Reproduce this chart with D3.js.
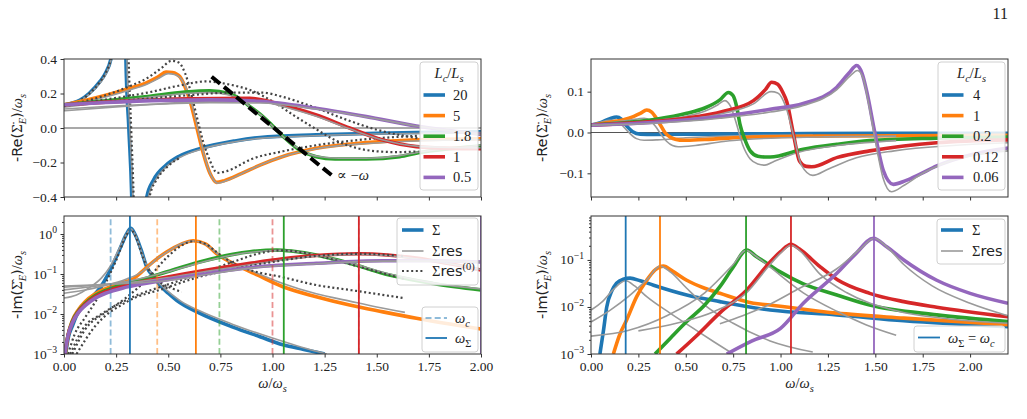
<!DOCTYPE html>
<html>
<head>
<meta charset="utf-8">
<script src="https://cdn.jsdelivr.net/npm/d3@7"></script>
<style>
  body { margin: 0; background: #fff; }
  svg text { font-family: "Liberation Serif", "DejaVu Serif", serif; fill: #222; }
  .sans { font-family: "DejaVu Sans", sans-serif; }
</style>
</head>
<body>
<svg id="fig" width="1027" height="419"></svg>
<script>
// ---- data: [omega/omega_s, value] ----
const colors = ["#1f77b4", "#ff7f0e", "#2ca02c", "#d62728", "#9467bd"];
const ratiosA = ["20", "5", "1.8", "1", "0.5"];
const ratiosB = ["4", "1", "0.2", "0.12", "0.06"];

// (a) top: -Re
const reA_sig_20 = [[0,0.133],[0.04,0.145],[0.077,0.162],[0.12,0.2],[0.173,0.27],[0.2,0.32],[0.225,0.4],[0.245,0.55],[0.27,1.0],[0.285,1.5],[0.297,0.4],[0.311,0],[0.325,-0.4],[0.335,-1.0],[0.36,-1.2],[0.38,-0.6],[0.397,-0.4],[0.43,-0.3],[0.49,-0.215],[0.55,-0.165],[0.655,-0.118],[0.82,-0.075],[0.94,-0.055],[1.21,-0.04],[1.5,-0.03],[1.75,-0.025],[2.0,-0.022]];
const reA_res_20 = [[0,0.125],[0.04,0.14],[0.077,0.158],[0.12,0.195],[0.173,0.262],[0.2,0.31],[0.225,0.39],[0.245,0.53],[0.27,0.95],[0.29,1.5],[0.302,0.4],[0.316,0],[0.33,-0.4],[0.34,-1.0],[0.37,-1.2],[0.39,-0.6],[0.405,-0.4],[0.44,-0.3],[0.5,-0.215],[0.56,-0.168],[0.66,-0.122],[0.82,-0.08],[0.94,-0.06],[1.2,-0.045],[1.5,-0.035],[1.75,-0.03],[2.0,-0.027]];
const reA_z_20 = [[0,0.13],[0.04,0.143],[0.077,0.16],[0.12,0.198],[0.173,0.268],[0.2,0.32],[0.225,0.4],[0.245,0.55],[0.27,1.0],[0.29,1.6],[0.31,0.4],[0.322,0],[0.334,-0.4],[0.345,-1.0],[0.37,-1.2],[0.39,-0.6],[0.41,-0.4],[0.45,-0.29],[0.5,-0.22],[0.56,-0.17]];
const reA_sig_5 = [[0,0.135],[0.1,0.16],[0.2,0.19],[0.3,0.225],[0.4,0.265],[0.45,0.295],[0.49,0.325],[0.52,0.322],[0.556,0.297],[0.58,0.24],[0.604,0.16],[0.636,0.008],[0.668,-0.147],[0.7,-0.263],[0.732,-0.315],[0.77,-0.305],[0.85,-0.265],[0.94,-0.215],[1.05,-0.165],[1.21,-0.118],[1.45,-0.085],[1.69,-0.068],[2.0,-0.062]];
const reA_res_5 = [[0,0.125],[0.1,0.15],[0.2,0.18],[0.3,0.215],[0.4,0.255],[0.45,0.285],[0.5,0.315],[0.53,0.31],[0.565,0.28],[0.59,0.22],[0.615,0.13],[0.645,-0.02],[0.675,-0.17],[0.705,-0.275],[0.738,-0.32],[0.78,-0.305],[0.86,-0.26],[0.95,-0.21],[1.05,-0.165],[1.21,-0.12],[1.45,-0.09],[1.69,-0.075],[2.0,-0.068]];
const reA_z_5 = [[0,0.13],[0.1,0.155],[0.2,0.19],[0.3,0.235],[0.4,0.29],[0.47,0.35],[0.516,0.39],[0.55,0.38],[0.58,0.32],[0.61,0.2],[0.64,0.05],[0.67,-0.09],[0.7,-0.19],[0.735,-0.26],[0.78,-0.25],[0.9,-0.18],[1.05,-0.135],[1.21,-0.1],[1.45,-0.065],[1.7,-0.045]];
const reA_sig_18 = [[0,0.135],[0.2,0.158],[0.4,0.183],[0.58,0.208],[0.7,0.215],[0.79,0.2],[0.85,0.165],[0.892,0.124],[0.94,0.08],[0.972,0.046],[1.052,-0.05],[1.13,-0.128],[1.21,-0.166],[1.3,-0.18],[1.45,-0.18],[1.61,-0.166],[1.7,-0.143],[1.85,-0.12],[2.0,-0.104]];
const reA_res_18 = [[0,0.12],[0.2,0.15],[0.4,0.177],[0.58,0.2],[0.7,0.205],[0.8,0.19],[0.86,0.155],[0.9,0.115],[0.95,0.07],[0.98,0.035],[1.06,-0.06],[1.14,-0.13],[1.22,-0.165],[1.32,-0.175],[1.45,-0.175],[1.61,-0.16],[1.7,-0.14],[1.85,-0.118],[2.0,-0.1]];
const reA_z_18 = [[0,0.13],[0.2,0.165],[0.4,0.205],[0.55,0.245],[0.68,0.27],[0.78,0.255],[0.892,0.22],[1.0,0.155],[1.1,0.075],[1.2,0.0],[1.3,-0.07],[1.4,-0.115],[1.5,-0.135],[1.6,-0.14],[1.7,-0.135]];
const reA_sig_1 = [[0,0.135],[0.2,0.15],[0.4,0.162],[0.6,0.17],[0.892,0.172],[0.97,0.158],[1.05,0.133],[1.21,0.075],[1.37,0.0],[1.53,-0.07],[1.69,-0.108],[1.85,-0.118],[2.0,-0.12]];
const reA_res_1 = [[0,0.1],[0.2,0.118],[0.4,0.135],[0.6,0.15],[0.892,0.16],[0.97,0.15],[1.05,0.125],[1.21,0.068],[1.37,-0.005],[1.53,-0.07],[1.69,-0.105],[1.85,-0.113],[2.0,-0.115]];
const reA_z_1 = [[0,0.13],[0.2,0.15],[0.4,0.17],[0.6,0.19],[0.8,0.205],[0.95,0.205],[1.05,0.18],[1.2,0.12],[1.35,0.05],[1.5,-0.01],[1.7,-0.06]];
const reA_sig_05 = [[0,0.135],[0.2,0.148],[0.49,0.16],[0.7,0.163],[0.94,0.155],[1.21,0.114],[1.45,0.066],[1.69,0.012],[1.85,-0.015],[2.0,-0.038]];
const reA_res_05 = [[0,0.11],[0.2,0.125],[0.49,0.14],[0.7,0.147],[0.94,0.145],[1.21,0.11],[1.45,0.064],[1.69,0.012],[1.85,-0.015],[2.0,-0.038]];
const reA_slope = [[0.708,0.297],[1.3,-0.29]];

// (a) bottom: -Im (log)
const imA_sig_20 = [[0.008,0.001],[0.02,0.0025],[0.04,0.005],[0.061,0.0094],[0.093,0.0154],[0.13,0.025],[0.173,0.045],[0.21,0.095],[0.236,0.18],[0.27,0.45],[0.3,1.0],[0.32,1.38],[0.34,1.0],[0.37,0.4],[0.397,0.15],[0.43,0.085],[0.46,0.053],[0.5,0.033],[0.54,0.022],[0.65,0.0105],[0.81,0.0047],[0.94,0.0027],[1.05,0.0017],[1.15,0.0013],[1.25,0.001]];
const imA_res_20 = [[0,0.025],[0.06,0.03],[0.12,0.045],[0.18,0.08],[0.22,0.15],[0.26,0.38],[0.3,1.0],[0.32,1.35],[0.34,1.0],[0.37,0.38],[0.4,0.15],[0.44,0.075],[0.48,0.045],[0.52,0.03],[0.56,0.021],[0.65,0.012],[0.81,0.0055],[1.0,0.0025],[1.2,0.0012],[1.26,0.001]];
const imA_z_20 = [[0.02,0.001],[0.05,0.003],[0.1,0.008],[0.15,0.02],[0.2,0.06],[0.25,0.22],[0.3,0.95],[0.32,1.3],[0.34,0.95],[0.38,0.25],[0.42,0.1],[0.47,0.058],[0.52,0.043],[0.564,0.036]];
const imA_sig_5 = [[0.006,0.001],[0.02,0.003],[0.04,0.0068],[0.07,0.013],[0.1,0.02],[0.15,0.032],[0.2,0.043],[0.25,0.054],[0.3,0.065],[0.333,0.076],[0.37,0.11],[0.41,0.17],[0.45,0.25],[0.49,0.35],[0.56,0.55],[0.62,0.68],[0.68,0.56],[0.73,0.33],[0.79,0.21],[0.844,0.15],[0.924,0.096],[1.05,0.048],[1.21,0.027],[1.37,0.0167],[1.53,0.0113],[1.69,0.0078],[1.85,0.0056],[2.0,0.0042]];
const imA_res_5 = [[0,0.033],[0.1,0.04],[0.2,0.052],[0.3,0.075],[0.37,0.11],[0.45,0.25],[0.5,0.37],[0.56,0.56],[0.62,0.67],[0.68,0.55],[0.73,0.34],[0.8,0.2],[0.9,0.12],[1.05,0.058],[1.21,0.032],[1.37,0.021],[1.5,0.015],[1.635,0.011]];
const imA_z_5 = [[0.04,0.001],[0.1,0.004],[0.2,0.011],[0.3,0.026],[0.4,0.075],[0.5,0.28],[0.56,0.5],[0.62,0.66],[0.68,0.56],[0.73,0.36],[0.8,0.2],[0.892,0.126],[1.05,0.083],[1.21,0.053],[1.37,0.04],[1.63,0.025]];
const imA_sig_18 = [[0.005,0.001],[0.02,0.003],[0.04,0.0065],[0.07,0.012],[0.1,0.018],[0.15,0.029],[0.2,0.039],[0.3,0.057],[0.4,0.08],[0.49,0.112],[0.65,0.2],[0.81,0.31],[0.892,0.36],[1.02,0.4],[1.1,0.37],[1.21,0.3],[1.37,0.185],[1.56,0.094],[1.77,0.058],[2.0,0.04]];
const imA_res_18 = [[0,0.04],[0.1,0.046],[0.2,0.054],[0.3,0.065],[0.49,0.11],[0.65,0.19],[0.81,0.3],[0.95,0.37],[1.04,0.39],[1.12,0.36],[1.21,0.3],[1.37,0.19],[1.56,0.1],[1.77,0.06],[2.0,0.042]];
const imA_z_18 = [[0.03,0.001],[0.1,0.005],[0.173,0.0095],[0.333,0.027],[0.49,0.053],[0.65,0.1],[0.81,0.2],[0.95,0.34],[1.04,0.39],[1.12,0.36],[1.25,0.26],[1.4,0.16],[1.63,0.075]];
const imA_sig_1 = [[0.004,0.001],[0.02,0.003],[0.04,0.0062],[0.07,0.0115],[0.1,0.017],[0.15,0.027],[0.2,0.036],[0.3,0.052],[0.49,0.083],[0.7,0.13],[0.892,0.185],[1.05,0.24],[1.21,0.29],[1.414,0.32],[1.55,0.3],[1.69,0.25],[1.85,0.18],[2.0,0.126]];
const imA_res_1 = [[0,0.047],[0.1,0.05],[0.2,0.055],[0.3,0.06],[0.49,0.08],[0.7,0.12],[0.892,0.17],[1.05,0.225],[1.21,0.28],[1.414,0.31],[1.55,0.29],[1.69,0.24],[1.85,0.18],[2.0,0.13]];
const imA_z_1 = [[0.06,0.001],[0.15,0.005],[0.3,0.02],[0.49,0.045],[0.65,0.085],[0.81,0.13],[1.0,0.2],[1.2,0.28],[1.414,0.32],[1.63,0.28]];
const imA_sig_05 = [[0.004,0.001],[0.02,0.003],[0.04,0.006],[0.07,0.011],[0.1,0.016],[0.15,0.025],[0.2,0.033],[0.3,0.047],[0.49,0.071],[0.7,0.105],[0.892,0.145],[1.21,0.185],[1.53,0.215],[1.75,0.215],[2.0,0.2]];
const imA_res_05 = [[0,0.05],[0.1,0.052],[0.2,0.055],[0.3,0.058],[0.49,0.068],[0.7,0.1],[0.892,0.14],[1.21,0.18],[1.53,0.21],[1.75,0.21],[2.0,0.2]];
const wcA = [0.2236, 0.4472, 0.7454, 1.0, 1.4142];
const wsA = [0.3162, 0.6325, 1.0541, 1.4142, 2.0];

// (b) top: -Re
const reB_sig_4 = [[0,0.018],[0.05,0.024],[0.1,0.034],[0.135,0.038],[0.16,0.033],[0.19,0.015],[0.22,0.002],[0.26,-0.004],[0.33,-0.005],[0.6,-0.004],[1.0,-0.003],[1.5,-0.002],[2.2,-0.002]];
const reB_res_4 = [[0,0.018],[0.05,0.025],[0.1,0.03],[0.13,0.03],[0.16,0.02],[0.2,0.0],[0.24,-0.015],[0.28,-0.019],[0.35,-0.018],[0.5,-0.013],[0.8,-0.008],[1.17,-0.006]];
const reB_sig_1 = [[0,0.018],[0.1,0.025],[0.2,0.035],[0.26,0.047],[0.294,0.055],[0.32,0.05],[0.345,0.035],[0.364,0.02],[0.39,0.0],[0.42,-0.012],[0.45,-0.017],[0.487,-0.019],[0.6,-0.017],[0.857,-0.011],[1.2,-0.009],[1.6,-0.008],[2.2,-0.007]];
const reB_res_1 = [[0,0.018],[0.1,0.024],[0.2,0.03],[0.28,0.035],[0.31,0.03],[0.34,0.015],[0.37,-0.005],[0.4,-0.022],[0.43,-0.032],[0.46,-0.035],[0.55,-0.032],[0.7,-0.022],[0.857,-0.016],[1.2,-0.011],[1.61,-0.009]];
const reB_sig_02 = [[0,0.018],[0.2,0.025],[0.35,0.033],[0.505,0.047],[0.6,0.06],[0.68,0.08],[0.725,0.098],[0.75,0.09],[0.77,0.06],[0.786,0.02],[0.81,-0.015],[0.84,-0.045],[0.88,-0.058],[0.918,-0.06],[0.945,-0.06],[1.12,-0.041],[1.297,-0.029],[1.47,-0.02],[1.824,-0.014],[2.2,-0.011]];
const reB_res_02 = [[0,0.018],[0.2,0.024],[0.35,0.03],[0.5,0.04],[0.6,0.052],[0.67,0.068],[0.705,0.078],[0.735,0.065],[0.765,0.025],[0.8,-0.03],[0.84,-0.065],[0.88,-0.077],[0.918,-0.08],[0.96,-0.072],[1.1,-0.048],[1.3,-0.032],[1.61,-0.02]];
const reB_sig_012 = [[0,0.018],[0.3,0.026],[0.5,0.035],[0.7,0.052],[0.857,0.078],[0.92,0.105],[0.953,0.123],[0.985,0.118],[1.01,0.1],[1.033,0.075],[1.068,-0.004],[1.1,-0.07],[1.135,-0.083],[1.165,-0.084],[1.3,-0.061],[1.47,-0.045],[1.65,-0.033],[1.824,-0.025],[2.2,-0.018]];
const reB_res_012 = [[0,0.018],[0.3,0.024],[0.5,0.032],[0.7,0.047],[0.857,0.07],[0.95,0.1],[0.985,0.097],[1.03,0.06],[1.07,-0.01],[1.11,-0.08],[1.17,-0.105],[1.25,-0.09],[1.4,-0.062],[1.6,-0.045],[2.2,-0.025]];
const reB_sig_006 = [[0,0.018],[0.3,0.024],[0.68,0.039],[0.945,0.057],[1.12,0.071],[1.297,0.111],[1.36,0.145],[1.402,0.164],[1.43,0.145],[1.455,0.1],[1.499,-0.004],[1.543,-0.094],[1.595,-0.127],[1.66,-0.118],[1.736,-0.102],[1.824,-0.082],[2.0,-0.055],[2.2,-0.038]];
const reB_res_006 = [[0,0.018],[0.3,0.022],[0.68,0.035],[0.945,0.05],[1.12,0.066],[1.297,0.105],[1.37,0.14],[1.405,0.152],[1.435,0.135],[1.465,0.07],[1.5,-0.02],[1.54,-0.11],[1.585,-0.145],[1.65,-0.13],[1.75,-0.1],[1.85,-0.078],[2.2,-0.045]];

// (b) bottom: -Im (log)
const imB_sig_4 = [[0.047,0.001],[0.065,0.003],[0.083,0.01],[0.11,0.022],[0.135,0.032],[0.17,0.039],[0.206,0.041],[0.26,0.036],[0.33,0.029],[0.505,0.018],[0.68,0.013],[0.945,0.0086],[1.297,0.0068],[1.65,0.0051],[2.2,0.0038]];
const imB_res_4 = [[0,0.0086],[0.06,0.013],[0.12,0.024],[0.183,0.036],[0.23,0.028],[0.294,0.0166],[0.417,0.0074],[0.54,0.0035],[0.65,0.0018],[0.75,0.001]];
const imB_sig_1 = [[0.118,0.001],[0.15,0.0025],[0.188,0.0053],[0.241,0.0166],[0.294,0.037],[0.34,0.062],[0.382,0.074],[0.43,0.058],[0.505,0.037],[0.6,0.025],[0.68,0.0195],[0.857,0.012],[0.945,0.011],[1.297,0.0074],[1.65,0.0058],[2.2,0.0042]];
const imB_res_1 = [[0,0.0048],[0.1,0.0085],[0.2,0.017],[0.3,0.04],[0.364,0.074],[0.42,0.055],[0.505,0.025],[0.6,0.011],[0.75,0.0045],[0.945,0.0019],[1.17,0.0011]];
const imB_sig_02 = [[0.338,0.001],[0.42,0.0022],[0.505,0.0049],[0.6,0.011],[0.68,0.027],[0.75,0.07],[0.822,0.163],[0.87,0.12],[0.927,0.085],[1.0,0.055],[1.12,0.031],[1.297,0.018],[1.47,0.011],[1.824,0.0068],[2.2,0.0049]];
const imB_res_02 = [[0,0.0024],[0.2,0.0032],[0.4,0.0065],[0.6,0.02],[0.75,0.08],[0.818,0.16],[0.87,0.12],[0.945,0.07],[1.12,0.02],[1.3,0.008],[1.45,0.0042],[1.61,0.0025]];
const imB_sig_012 = [[0.452,0.001],[0.55,0.0023],[0.68,0.0075],[0.822,0.023],[0.945,0.09],[1.0,0.15],[1.055,0.216],[1.1,0.17],[1.208,0.072],[1.3,0.038],[1.47,0.0195],[1.65,0.013],[1.824,0.0099],[2.2,0.0062]];
const imB_res_012 = [[0.25,0.0031],[0.45,0.0045],[0.65,0.008],[0.82,0.02],[0.945,0.08],[1.0,0.14],[1.055,0.205],[1.1,0.16],[1.208,0.05],[1.35,0.02],[1.6,0.0085],[1.9,0.0055],[2.2,0.0045]];
const imB_sig_006 = [[0.716,0.001],[0.85,0.0019],[1.0,0.0035],[1.12,0.012],[1.297,0.052],[1.4,0.14],[1.49,0.288],[1.56,0.19],[1.65,0.1],[1.824,0.037],[2.0,0.0195],[2.2,0.012]];
const imB_res_006 = [[0.68,0.0044],[0.8,0.0065],[0.945,0.0115],[1.1,0.025],[1.297,0.065],[1.42,0.17],[1.493,0.29],[1.56,0.19],[1.65,0.08],[1.8,0.028],[2.0,0.012],[2.2,0.0065]];
const wsB = [0.183, 0.364, 0.818, 1.055, 1.493];

const xTicks = [0, 0.25, 0.5, 0.75, 1, 1.25, 1.5, 1.75, 2];

// ---- layout ----
const svg = d3.select("#fig");
const xA = d3.scaleLinear().domain([0, 2]).range([64, 481]);
const xB = d3.scaleLinear().domain([0, 2.2]).range([591, 1008]);
const yAre = d3.scaleLinear().domain([-0.4, 0.4]).range([197, 59]);
const yAim = d3.scaleLog().domain([1e-3, 2.82]).range([354, 216]);
const yBre = d3.scaleLinear().domain([-0.158, 0.18]).range([197, 59]);
const yBim = d3.scaleLog().domain([1e-3, 0.86]).range([354, 216]);

const FS = 13.5;
const SERIF = '"Liberation Serif", "DejaVu Serif", serif';

// small helper for mixed math / text labels
function rich(txt, parts, size) {
    let cur = 0;
    parts.forEach(p => {
        const off = p.sub ? size * 0.3 : p.sup ? -size * 0.42 : 0;
        const ts = txt.append("tspan").text(p.t).attr("dy", off - cur);
        cur = off;
        if (p.it) ts.attr("font-style", "italic");
        if (p.sans) ts.attr("class", "sans");
        if (p.sub || p.sup) ts.attr("font-size", size * 0.72);
    });
    return txt;
}

let clipN = 0;
function makePanel(x, y) {
    const id = "clip" + (clipN++);
    svg.append("clipPath").attr("id", id).append("rect")
        .attr("x", x.range()[0]).attr("y", y.range()[1])
        .attr("width", x.range()[1] - x.range()[0])
        .attr("height", y.range()[0] - y.range()[1]);
    return svg.append("g").attr("clip-path", `url(#${id})`);
}

function line(x, y) {
    return d3.line().x(p => x(p[0])).y(p => y(p[1])).curve(d3.curveMonotoneX);
}

function drawSeries(g, x, y, sig, res, zer) {
    const ln = line(x, y);
    sig.forEach((s, i) => {
        g.append("path").datum(s).attr("d", ln).attr("fill", "none")
            .attr("stroke", colors[i]).attr("stroke-width", 3.6).attr("stroke-linejoin", "round");
        if (res[i]) g.append("path").datum(res[i]).attr("d", ln).attr("fill", "none")
            .attr("stroke", "#9a9a9a").attr("stroke-width", 1.6);
        if (zer && zer[i]) g.append("path").datum(zer[i]).attr("d", ln).attr("fill", "none")
            .attr("stroke", "#444").attr("stroke-width", 2.2).attr("stroke-dasharray", "2,2.6");
    });
}

function zeroLine(g, x, y) {
    g.append("line").attr("x1", x.range()[0]).attr("x2", x.range()[1])
        .attr("y1", y(0)).attr("y2", y(0)).attr("stroke", "#555").attr("stroke-width", 1.2);
}

function frame(x, y) {
    svg.append("rect").attr("x", x.range()[0]).attr("y", y.range()[1])
        .attr("width", x.range()[1] - x.range()[0]).attr("height", y.range()[0] - y.range()[1])
        .attr("fill", "none").attr("stroke", "#333").attr("stroke-width", 1);
}

function styleAxis(g) {
    g.attr("font-family", null).attr("font-size", null);
    g.select(".domain").remove();
    g.selectAll(".tick line").attr("stroke", "#333");
    g.selectAll(".tick text").attr("fill", "#222")
        .style("font-family", SERIF).style("font-size", FS + "px");
}

function xAxis(x, y, labels, ticks) {
    const g = svg.append("g").attr("transform", `translate(0,${y.range()[0]})`)
        .call(d3.axisBottom(x).tickValues(ticks).tickSize(3.5).tickPadding(4)
            .tickFormat(labels ? d3.format(".2f") : ""));
    styleAxis(g);
}

function yAxisLin(x, y, ticks) {
    const g = svg.append("g").attr("transform", `translate(${x.range()[0]},0)`)
        .call(d3.axisLeft(y).tickValues(ticks).tickSize(3.5).tickPadding(3.5).tickFormat(d3.format(".1f")));
    styleAxis(g);
}

function yAxisLog(x, y, exps) {
    const x0 = x.range()[0];
    const [lo, hi] = y.domain();
    const minor = [];
    for (let e = Math.floor(Math.log10(lo)); e <= Math.ceil(Math.log10(hi)); e++)
        for (let k = 2; k <= 9; k++) { const v = k * Math.pow(10, e); if (v > lo && v < hi) minor.push(v); }
    const gm = svg.append("g").attr("transform", `translate(${x0},0)`)
        .call(d3.axisLeft(y).tickValues(minor).tickSize(2).tickFormat(""));
    styleAxis(gm);
    const gM = svg.append("g").attr("transform", `translate(${x0},0)`)
        .call(d3.axisLeft(y).tickValues(exps.map(e => Math.pow(10, e))).tickSize(3.5).tickFormat(""));
    styleAxis(gM);
    exps.forEach(e => {
        const t = svg.append("text").attr("x", x0 - 7).attr("y", y(Math.pow(10, e)) + 4.5)
            .attr("text-anchor", "end").attr("font-size", FS);
        rich(t, [{ t: "10" }, { t: e < 0 ? "\u2212" + (-e) : String(e), sup: true }], FS);
    });
}

function vlines(g, x, y, vals, dashed) {
    g.selectAll(null).data(vals).enter().append("line")
        .attr("x1", d => x(d)).attr("x2", d => x(d))
        .attr("y1", y.range()[0]).attr("y2", y.range()[1])
        .attr("stroke", (d, i) => colors[i])
        .attr("stroke-width", 1.8)
        .attr("stroke-opacity", dashed ? 0.5 : 1)
        .attr("stroke-dasharray", dashed ? "6,3.2" : null);
}

function yLabel(xpos, y, parts) {
    const c = (y.range()[0] + y.range()[1]) / 2;
    const t = svg.append("text").attr("transform", `translate(${xpos},${c}) rotate(-90)`)
        .attr("text-anchor", "middle").attr("font-size", 14.5);
    rich(t, parts, 14.5);
}

function xLabel(x, ypos) {
    const t = svg.append("text").attr("x", (x.range()[0] + x.range()[1]) / 2).attr("y", ypos)
        .attr("text-anchor", "middle").attr("font-size", 14.5);
    rich(t, [{ t: "ω", it: true }, { t: "/" }, { t: "ω", it: true }, { t: "s", it: true, sub: true }], 14.5);
}

function legendBox(x0, y0, w, h) {
    svg.append("rect").attr("x", x0).attr("y", y0).attr("width", w).attr("height", h)
        .attr("rx", 3).attr("fill", "#fff").attr("fill-opacity", 0.85)
        .attr("stroke", "#d0d0d0").attr("stroke-width", 1);
}

function legendEntry(hx0, hx1, yy, tx, style, parts) {
    const l = svg.append("line").attr("x1", hx0).attr("x2", hx1).attr("y1", yy).attr("y2", yy)
        .attr("stroke", style.color).attr("stroke-width", style.w);
    if (style.dash) l.attr("stroke-dasharray", style.dash);
    if (style.op) l.attr("stroke-opacity", style.op);
    const t = svg.append("text").attr("x", tx).attr("y", yy + 5).attr("font-size", 14.5);
    rich(t, parts, 14.5);
}

// ---- (a) top ----
const gAre = makePanel(xA, yAre);
zeroLine(gAre, xA, yAre);
drawSeries(gAre, xA, yAre,
    [reA_sig_20, reA_sig_5, reA_sig_18, reA_sig_1, reA_sig_05],
    [reA_res_20, reA_res_5, reA_res_18, reA_res_1, reA_res_05],
    [reA_z_20, reA_z_5, reA_z_18, reA_z_1]);
gAre.append("path").datum(reA_slope).attr("d", d3.line().x(p => xA(p[0])).y(p => yAre(p[1])))
    .attr("stroke", "#000").attr("stroke-width", 4).attr("stroke-dasharray", "11,5").attr("fill", "none");
frame(xA, yAre);
xAxis(xA, yAre, false, xTicks);
yAxisLin(xA, yAre, [-0.4, -0.2, 0, 0.2, 0.4]);
rich(svg.append("text").attr("x", 337).attr("y", 180).attr("font-size", 14.5),
    [{ t: "∝ −" }, { t: "ω", it: true }], 14.5);
yLabel(22, yAre, [{ t: "-Re(", sans: true }, { t: "Σ\u0308" }, { t: "E", it: true, sub: true }, { t: ")", sans: true }, { t: "/" }, { t: "ω", it: true }, { t: "s", it: true, sub: true }]);

legendBox(420, 62, 58, 128);
rich(svg.append("text").attr("x", 449).attr("y", 78).attr("text-anchor", "middle").attr("font-size", 14.5),
    [{ t: "L", it: true }, { t: "c", it: true, sub: true }, { t: "/" }, { t: "L", it: true }, { t: "s", it: true, sub: true }], 14.5);
ratiosA.forEach((r, i) => legendEntry(423.5, 445, 95 + i * 20.6, 453, { color: colors[i], w: 3.6 }, [{ t: r }]));

// ---- (a) bottom ----
const gAim = makePanel(xA, yAim);
drawSeries(gAim, xA, yAim,
    [imA_sig_20, imA_sig_5, imA_sig_18, imA_sig_1, imA_sig_05],
    [imA_res_20, imA_res_5, imA_res_18, imA_res_1, imA_res_05],
    [imA_z_20, imA_z_5, imA_z_18, imA_z_1]);
vlines(gAim, xA, yAim, wcA, true);
vlines(gAim, xA, yAim, wsA, false);
frame(xA, yAim);
xAxis(xA, yAim, true, xTicks);
yAxisLog(xA, yAim, [-3, -2, -1, 0]);
yLabel(22, yAim, [{ t: "-Im(", sans: true }, { t: "Σ\u0302" }, { t: "E", it: true, sub: true }, { t: ")", sans: true }, { t: "/" }, { t: "ω", it: true }, { t: "s", it: true, sub: true }]);
xLabel(xA, 388);

legendBox(397, 218, 81, 67);
legendEntry(402, 423.5, 230, 432, { color: colors[0], w: 3.6 }, [{ t: "Σ" }]);
legendEntry(402, 423.5, 251, 432, { color: "#9a9a9a", w: 1.6 }, [{ t: "Σ" }, { t: "res", sans: true }]);
legendEntry(402, 423.5, 271, 432, { color: "#444", w: 2.2, dash: "2,2.6" }, [{ t: "Σ" }, { t: "res", sans: true }, { t: "(0)", sup: true }]);
legendBox(422, 307, 56, 45);
legendEntry(425.5, 447, 318, 455, { color: colors[0], w: 1.8, dash: "6,3.2", op: 0.5 }, [{ t: "ω", it: true }, { t: "c", it: true, sub: true }]);
legendEntry(425.5, 447, 338, 455, { color: colors[0], w: 1.8 }, [{ t: "ω", it: true }, { t: "Σ", sub: true }]);

// ---- (b) top ----
const gBre = makePanel(xB, yBre);
zeroLine(gBre, xB, yBre);
drawSeries(gBre, xB, yBre,
    [reB_sig_4, reB_sig_1, reB_sig_02, reB_sig_012, reB_sig_006],
    [reB_res_4, reB_res_1, reB_res_02, reB_res_012, reB_res_006], null);
frame(xB, yBre);
xAxis(xB, yBre, false, xTicks);
yAxisLin(xB, yBre, [-0.1, 0, 0.1]);
yLabel(547, yBre, [{ t: "-Re(", sans: true }, { t: "Σ\u0308" }, { t: "E", it: true, sub: true }, { t: ")", sans: true }, { t: "/" }, { t: "ω", it: true }, { t: "s", it: true, sub: true }]);

legendBox(938, 62, 67, 128);
rich(svg.append("text").attr("x", 971.5).attr("y", 78).attr("text-anchor", "middle").attr("font-size", 14.5),
    [{ t: "L", it: true }, { t: "c", it: true, sub: true }, { t: "/" }, { t: "L", it: true }, { t: "s", it: true, sub: true }], 14.5);
ratiosB.forEach((r, i) => legendEntry(942, 963.5, 95 + i * 20.6, 973, { color: colors[i], w: 3.6 }, [{ t: r }]));

// ---- (b) bottom ----
const gBim = makePanel(xB, yBim);
drawSeries(gBim, xB, yBim,
    [imB_sig_4, imB_sig_1, imB_sig_02, imB_sig_012, imB_sig_006],
    [imB_res_4, imB_res_1, imB_res_02, imB_res_012, imB_res_006], null);
vlines(gBim, xB, yBim, wsB, false);
frame(xB, yBim);
xAxis(xB, yBim, true, xTicks);
yAxisLog(xB, yBim, [-3, -2, -1]);
yLabel(547, yBim, [{ t: "-Im(", sans: true }, { t: "Σ\u0302" }, { t: "E", it: true, sub: true }, { t: ")", sans: true }, { t: "/" }, { t: "ω", it: true }, { t: "s", it: true, sub: true }]);
xLabel(xB, 388);

legendBox(937, 219, 68, 45);
legendEntry(941, 963, 230, 972, { color: colors[0], w: 3.6 }, [{ t: "Σ" }]);
legendEntry(941, 963, 251, 972, { color: "#9a9a9a", w: 1.6 }, [{ t: "Σ" }, { t: "res", sans: true }]);
legendBox(914, 326, 91, 26);
legendEntry(918, 940, 337.5, 948, { color: colors[0], w: 1.8 },
    [{ t: "ω", it: true }, { t: "Σ", sub: true }, { t: " = " }, { t: "ω", it: true }, { t: "c", it: true, sub: true }]);

// page number
svg.append("text").attr("x", 1008).attr("y", 19).attr("text-anchor", "end").attr("font-size", 16).text("11");
</script>
</body>
</html>
